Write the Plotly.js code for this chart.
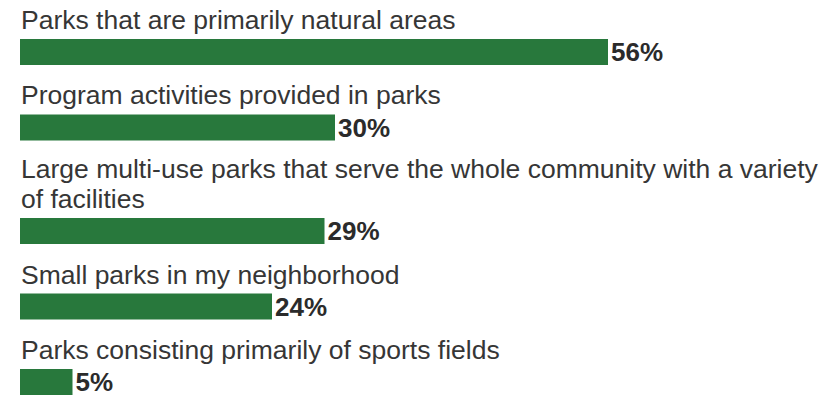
<!DOCTYPE html>
<html>
<head>
<meta charset="utf-8">
<script src="https://cdn.plot.ly/plotly-3.0.1.min.js"></script>
<style>
  html, body { margin: 0; padding: 0; background: #ffffff; }
  #chart { width: 834px; height: 396px; }
</style>
</head>
<body>
<div id="chart"></div>
<script>
// ---- data ----
const categories = [
  "Parks that are primarily natural areas",
  "Program activities provided in parks",
  "Large multi-use parks that serve the whole community with a variety<br>of facilities",
  "Small parks in my neighborhood",
  "Parks consisting primarily of sports fields"
];
const values = [56, 30, 29, 24, 5];
const valueLabels = ["56%", "30%", "29%", "24%", "5%"];

// ---- layout helpers (pixel-like vertical coordinate system) ----
const W = 834, H = 396;
const leftPx = 20;          // where bars start
const pxPerUnit = 10.5;     // horizontal scale
const firstCenter = 52;
const rowStep = 75.5;
const extraLineStep = 28;
const barThickness = 26;
const lineSpacing = 30;

const centers = [];
let extra = 0;
categories.forEach((c, i) => {
  const lines = c.split("<br>").length;
  extra += (lines - 1) * extraLineStep;
  centers.push(firstCenter + i * rowStep + extra);
});

const green = "#28783c";
const textColor = "#363636";
const font = "Liberation Sans, Arial, Helvetica, sans-serif";

const trace = {
  type: "bar",
  orientation: "h",
  x: values,
  y: centers,
  width: barThickness,
  marker: { color: green, line: { width: 0 } },
  text: valueLabels,
  textposition: "outside",
  constraintext: "none",
  cliponaxis: false,
  textfont: { family: font, size: 26, color: "#2b2b2b", weight: "bold" },
  hoverinfo: "skip"
};

const annotations = [];
categories.forEach((c, i) => {
  const lines = c.split("<br>");
  lines.forEach((ln, k) => {
    annotations.push({
      text: ln,
      xref: "x", yref: "y",
      x: 0,
      y: centers[i] - barThickness / 2 - 3 - (lines.length - 1 - k) * lineSpacing,
      xanchor: "left", yanchor: "bottom",
      align: "left",
      showarrow: false,
      borderpad: 0,
      font: { family: font, size: 26.5, color: textColor }
    });
  });
});

const layout = {
  width: W, height: H,
  margin: { l: 0, r: 0, t: 0, b: 0, pad: 0 },
  paper_bgcolor: "#ffffff",
  plot_bgcolor: "#ffffff",
  showlegend: false,
  xaxis: {
    range: [-leftPx / pxPerUnit, (W - leftPx) / pxPerUnit],
    visible: false, fixedrange: true
  },
  yaxis: {
    range: [H, 0],
    visible: false, fixedrange: true
  },
  annotations: annotations
};

Plotly.newPlot("chart", [trace], layout, { displayModeBar: false, staticPlot: true });
</script>
</body>
</html>
